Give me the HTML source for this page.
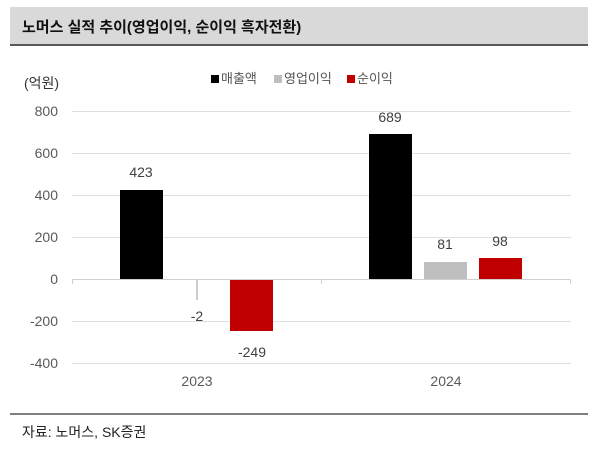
<!DOCTYPE html>
<html><head><meta charset="utf-8"><style>
body{margin:0;background:#fff;}
</style></head><body>
<svg width="600" height="448" xmlns="http://www.w3.org/2000/svg" font-family="Liberation Sans, Noto Sans CJK KR, sans-serif">
<rect x="10" y="7" width="578" height="38" fill="#d9d9d9"/>
<rect x="10" y="44" width="578" height="2" fill="#595959"/>
<text x="22" y="32" font-size="15" font-weight="bold" fill="#111">노머스 실적 추이(영업이익, 순이익 흑자전환)</text>
<text x="24" y="88" font-size="14" fill="#333">(억원)</text>
<rect x="211" y="75" width="8" height="8" fill="#000"/><text x="221" y="83" font-size="13" fill="#555">매출액</text>
<rect x="274" y="75" width="8" height="8" fill="#bfbfbf"/><text x="284" y="83" font-size="13" fill="#555">영업이익</text>
<rect x="347" y="75" width="8" height="8" fill="#c00000"/><text x="357" y="83" font-size="13" fill="#555">순이익</text>
<g stroke="#e0e0e0" stroke-width="1">
<line x1="72" x2="571" y1="111.5" y2="111.5"/><line x1="72" x2="571" y1="153.5" y2="153.5"/><line x1="72" x2="571" y1="195.5" y2="195.5"/><line x1="72" x2="571" y1="237.5" y2="237.5"/><line x1="72" x2="571" y1="321.5" y2="321.5"/><line x1="72" x2="571" y1="363.5" y2="363.5"/>
</g>
<g font-size="14" fill="#595959" text-anchor="end">
<text x="58" y="116">800</text><text x="58" y="158">600</text><text x="58" y="200">400</text><text x="58" y="242">200</text><text x="58" y="284">0</text><text x="58" y="326">-200</text><text x="58" y="368">-400</text>
</g>
<rect x="120" y="190" width="43" height="89" fill="#000"/>
<rect x="230" y="279" width="43" height="52" fill="#c00000"/>
<rect x="369" y="134" width="43" height="145" fill="#000"/>
<rect x="424" y="262" width="43" height="17" fill="#bfbfbf"/>
<rect x="479" y="258" width="43" height="21" fill="#c00000"/>
<line x1="197" x2="197" y1="279" y2="300" stroke="#999"/>
<g stroke="#d0d0d0"><line x1="72" x2="571" y1="279.5" y2="279.5"/><line x1="72.5" x2="72.5" y1="279" y2="284"/><line x1="321.5" x2="321.5" y1="279" y2="284"/><line x1="570.5" x2="570.5" y1="279" y2="284"/></g>
<g font-size="14" fill="#404040" text-anchor="middle">
<text x="141" y="177">423</text><text x="197" y="321">-2</text><text x="252" y="357">-249</text>
<text x="390" y="122">689</text><text x="445" y="249">81</text><text x="500" y="246">98</text>
<text x="197" y="386" fill="#595959">2023</text><text x="446" y="386" fill="#595959">2024</text>
</g>
<rect x="10" y="413" width="578" height="2" fill="#7f7f7f"/>
<text x="22" y="437" font-size="14" fill="#222">자료: 노머스, SK증권</text>
</svg>
</body></html>
